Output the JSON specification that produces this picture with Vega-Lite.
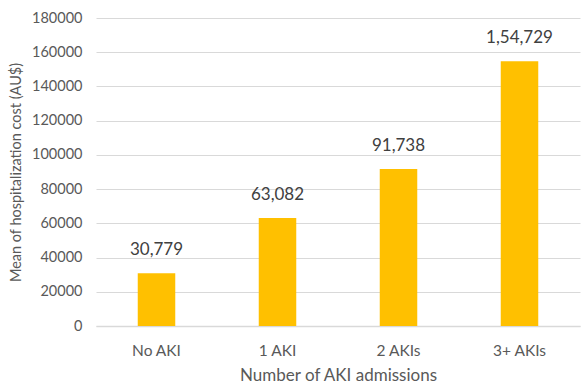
{
  "$schema": "https://vega.github.io/schema/vega-lite/v6.json",
  "width": 484,
  "height": 308,
  "autosize": {"type": "none"},
  "padding": {"left": 96, "top": 18, "right": 2, "bottom": 60},
  "background": "white",
  "config": {"view": {"stroke": null}, "font": "Lato"},
  "data": {
    "values": [
      {"group": "No AKI", "cost": 30779, "label": "30,779"},
      {"group": "1 AKI", "cost": 63082, "label": "63,082"},
      {"group": "2 AKIs", "cost": 91738, "label": "91,738"},
      {"group": "3+ AKIs", "cost": 154729, "label": "1,54,729"}
    ]
  },
  "encoding": {
    "x": {
      "field": "group", "type": "nominal", "sort": null,
      "scale": {"paddingInner": 0.69, "paddingOuter": 0.345},
      "axis": {
        "title": "Number of AKI admissions", "labelAngle": 0,
        "labelFontSize": 15.5, "labelColor": "#595959", "labelPadding": 17,
        "titleFontSize": 17, "titleColor": "#595959", "titleFontWeight": "normal", "titlePadding": 9,
        "ticks": false, "domainColor": "#d9d9d9", "domainWidth": 1.5
      }
    },
    "y": {
      "field": "cost", "type": "quantitative",
      "scale": {"domain": [0, 180000], "nice": false},
      "axis": {
        "title": "Mean of hospitalization cost (AU$)",
        "values": [0, 20000, 40000, 60000, 80000, 100000, 120000, 140000, 160000, 180000],
        "format": "d", "labelFontSize": 14.5, "labelColor": "#595959", "labelPadding": 14,
        "titleFontSize": 14.5, "titleColor": "#595959", "titleFontWeight": "normal", "titlePadding": 8,
        "ticks": false, "domain": false, "gridColor": "#d9d9d9", "gridWidth": 1
      }
    }
  },
  "layer": [
    {"mark": {"type": "bar", "color": "#FFC000"}},
    {
      "mark": {"type": "text", "dy": -14, "fontSize": 17, "color": "#404040", "baseline": "bottom"},
      "encoding": {"text": {"field": "label"}}
    }
  ]
}
